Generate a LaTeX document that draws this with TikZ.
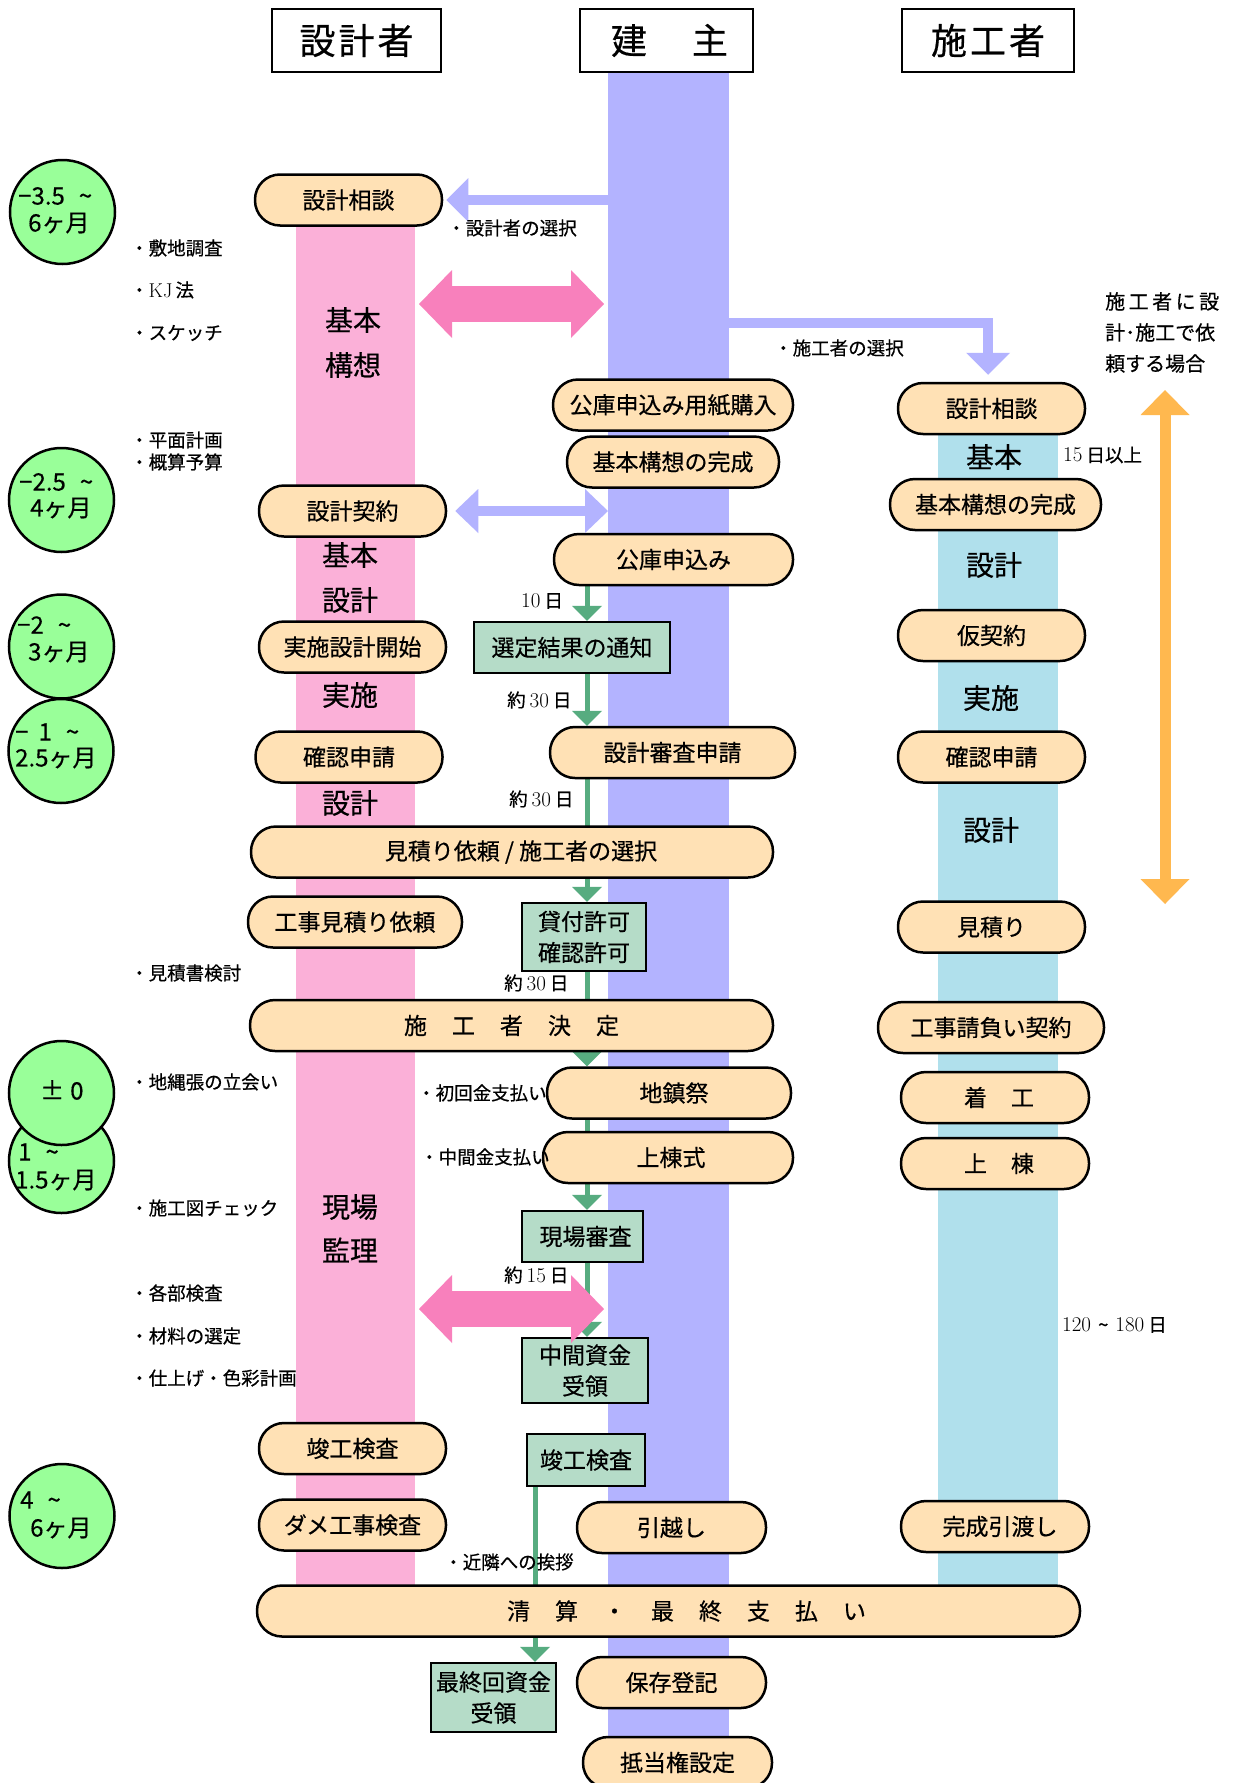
\documentclass[tikz,border=0pt]{standalone}
\usepackage{fontspec}
\newfontfamily\jp[FakeBold=0.5]{Noto Sans CJK JP}
\usetikzlibrary{arrows.meta,shapes.geometric}
\definecolor{peach}{HTML}{FFE1B5}
\definecolor{pinklane}{HTML}{FBB0D8}
\definecolor{pinkarrow}{HTML}{F880BC}
\definecolor{violane}{HTML}{B3B3FF}
\definecolor{bluelane}{HTML}{B0E0EC}
\definecolor{gbox}{HTML}{B5DCC8}
\definecolor{glinec}{HTML}{57AC80}
\definecolor{cgreen}{HTML}{99FF99}
\definecolor{orangearrow}{HTML}{FFB84F}
\pgfdeclarelayer{back}
\pgfdeclarelayer{mid}
\pgfsetlayers{back,mid,main}
\newcommand{\wg}{\hspace{25pt}}
\newcommand{\tld}{\char"7E\relax}
\newcommand{\dg}[1]{{\fontsize{21}{22}\selectfont #1}}
\begin{document}
\begin{tikzpicture}[x=1pt,y=-1pt,
 ov/.style={draw=black,line width=2.5pt,fill=peach,rectangle,rounded corners=25pt,minimum height=51pt,inner sep=0pt,font=\jp\fontsize{23}{28}\selectfont},
 gb/.style={draw=black,line width=2.5pt,fill=gbox,rectangle,inner sep=0pt,align=center,font=\jp\fontsize{23}{31}\selectfont},
 hd/.style={draw=black,line width=2.5pt,fill=white,rectangle,minimum height=63pt,inner sep=0pt,font=\jp\fontsize{36}{40}\selectfont},
 circ/.style={ellipse,draw=black,line width=2.5pt,fill=cgreen,minimum width=105pt,minimum height=104pt,inner sep=0pt},
 ctxt/.style={anchor=west,inner sep=0pt,font=\jp\fontsize{24}{26}\selectfont},
 ann/.style={anchor=west,inner sep=0pt,font=\jp\fontsize{18.5}{20}\selectfont},
 lt/.style={inner sep=0pt,font=\jp\fontsize{28}{32}\selectfont},
 daylbl/.style={anchor=west,inner sep=0pt,font=\fontsize{18.5}{20}\selectfont},
 garrow/.style={draw=glinec,line width=5pt,-{Triangle[width=30pt,length=15pt,line width=0pt]}},
 gseg/.style={draw=glinec,line width=5pt},
 varrow/.style={draw=violane,line width=10pt,line join=miter,-{Triangle[width=44pt,length=22pt,line width=0pt]}},
 vdarrow/.style={draw=violane,line width=10pt,{Triangle[width=44pt,length=23pt,line width=0pt]}-{Triangle[width=44pt,length=23pt,line width=0pt]}},
 parrow/.style={draw=pinkarrow,line width=36pt,{Triangle[width=68pt,length=33pt,line width=0pt]}-{Triangle[width=68pt,length=33pt,line width=0pt]}},
 oarrow/.style={draw=orangearrow,line width=11pt,{Triangle[width=49pt,length=25pt,line width=0pt]}-{Triangle[width=49pt,length=25pt,line width=0pt]}}
]
\useasboundingbox (0,0) rectangle (1234,1783);
\begin{pgfonlayer}{back}
 \fill[white] (0,0) rectangle (1234,1783);
 \fill[pinklane] (296,200) rectangle (415,1600);
 \fill[violane] (608,72) rectangle (729,1775);
 \fill[bluelane] (938,408) rectangle (1058,1600);
\end{pgfonlayer}
\coordinate (lane2L) at (608,0);
\coordinate (lane2R) at (729,0);

% headers
\node[hd,minimum width=169pt] (h1) at (356.5,40.5) {設\hspace{3pt}計\hspace{3pt}者};
\node[hd,minimum width=173pt] (h2) at (666.5,40.5) {\hspace{6pt}建\hspace{45pt}主};
\node[hd,minimum width=172pt] (h3) at (988,40.5) {施\hspace{3pt}工\hspace{3pt}者};

% designer column
\node[ov,minimum width=187pt] (d1) at (348.5,200) {設計相談};
\node[ov,minimum width=187pt] (d2) at (352.5,511) {設計契約};
\node[ov,minimum width=187pt] (d3) at (352.5,647) {実施設計開始};
\node[ov,minimum width=187pt] (d4) at (349,757) {確認申請};
\node[ov,minimum width=522pt] (d5) at (512,852) {\hspace{18pt}見積り依頼 / 施工者の選択};
\node[ov,minimum width=214pt] (d6) at (355,922) {工事見積り依頼};
\node[ov,minimum width=523pt] (d7) at (511.5,1025.5) {施\wg 工\wg 者\wg 決\wg 定};
\node[ov,minimum width=187pt] (d8) at (352.5,1448.5) {竣工検査};
\node[ov,minimum width=187pt] (d9) at (352.5,1525) {ダメ工事検査};
\node[ov,minimum width=823pt] (d10) at (668.5,1611) {\hspace{36pt}清\wg 算\wg ・\wg 最\wg 終\wg 支\wg 払\wg い};

% owner column
\node[ov,minimum width=240pt] (o1) at (673,405) {公庫申込み用紙購入};
\node[ov,minimum width=212pt] (o2) at (673,462) {基本構想の完成};
\node[ov,minimum width=239pt] (o3) at (673.5,559.5) {公庫申込み};
\node[ov,minimum width=245pt] (o4) at (672.5,752.5) {設計審査申請};
\node[ov,minimum width=244pt] (o5) at (669,1093) {\hspace{10pt}地鎮祭};
\node[ov,minimum width=250pt] (o6) at (668,1157.5) {\hspace{6pt}上棟式};
\node[ov,minimum width=189pt] (o7) at (671.5,1527.5) {引越し};
\node[ov,minimum width=189pt] (o8) at (671.5,1682.5) {保存登記};
\node[ov,minimum width=189pt] (o9) at (677.5,1762.5) {抵当権設定};

% builder column
\node[ov,minimum width=187pt] (s1) at (991.5,408.5) {設計相談};
\node[ov,minimum width=211pt] (s2) at (995.5,504.5) {基本構想の完成};
\node[ov,minimum width=187pt] (s3) at (991.5,635.5) {仮契約};
\node[ov,minimum width=187pt] (s4) at (991.5,757) {確認申請};
\node[ov,minimum width=187pt] (s5) at (991.5,927) {見積り};
\node[ov,minimum width=226pt] (s6) at (991,1027.5) {工事請負い契約};
\node[ov,minimum width=188pt] (s7) at (995,1097.5) {\hspace{8pt}着\hspace{24pt}工};
\node[ov,minimum width=188pt] (s8) at (995,1163.5) {\hspace{8pt}上\hspace{24pt}棟};
\node[ov,minimum width=188pt] (s9) at (995,1526.5) {\hspace{10pt}完成引渡し};

% green boxes
\node[gb,minimum width=196pt,minimum height=51pt] (g1) at (572,647.5) {選定結果の通知};
\node[gb,minimum width=124pt,minimum height=68pt] (g2) at (584,937) {貸付許可\\確認許可};
\node[gb,minimum width=121pt,minimum height=51pt] (g3) at (582.5,1236.5) {\hspace{6pt}現場審査};
\node[gb,minimum width=126pt,minimum height=65pt] (g4) at (585,1370.5) {中間資金\\受領};
\node[gb,minimum width=118pt,minimum height=52pt] (g5) at (586,1460) {竣工検査};
\node[gb,minimum width=125pt,minimum height=69pt] (g6) at (493.5,1697.5) {最終回資金\\受領};

% green circles
\node[circ] (c1) at (62.5,212) {};
\node[circ] (c2) at (61.5,500) {};
\node[circ] (c3) at (61.5,646.5) {};
\node[circ] (c4) at (61,751) {};
\node[circ] (c5) at (61.5,1161) {};
\node[circ] (c6) at (61.5,1093) {};
\node[circ] (c7) at (62,1516) {};

\node[ctxt] (c1a) at (18,196) {−3.5\hspace{14pt}\tld};
\node[ctxt] (c1b) at (28,223) {6ヶ月};
\node[ctxt] (c2a) at (19,482) {−2.5\hspace{14pt}\tld};
\node[ctxt] (c2b) at (30,508) {4ヶ月};
\node[ctxt] (c3a) at (17,625) {−2\hspace{14pt}\tld};
\node[ctxt] (c3b) at (28,652) {3ヶ月};
\node[ctxt] (c4a) at (15,732) {−\hspace{10pt}1\hspace{14pt}\tld};
\node[ctxt] (c4b) at (15,758) {2.5ヶ月};
\node[ctxt] (c6a) at (40,1090) {±\hspace{6pt}0};
\node[ctxt] (c5a) at (18,1152) {1\hspace{14pt}\tld};
\node[ctxt] (c5b) at (15,1180) {1.5ヶ月};
\node[ctxt] (c7a) at (20,1500) {4\hspace{14pt}\tld};
\node[ctxt] (c7b) at (30,1528) {6ヶ月};

% green connectors
\coordinate (gx) at (587,0);
\coordinate (gx2) at (535,0);
\begin{pgfonlayer}{mid}
 \draw[garrow] (o3.south -| gx) -- (g1.north -| gx);
 \draw[garrow] (g1.south -| gx) -- (o4.north -| gx);
 \draw[garrow] (o4.south -| gx) -- (g2.north -| gx);
 \draw[garrow] (g2.south -| gx) -- (o5.north -| gx);
 \draw[gseg] (o5.south -| gx) -- (o6.north -| gx);
 \draw[garrow] (o6.south -| gx) -- (g3.north -| gx);
 \draw[garrow] (g3.south -| gx) -- (g4.north -| gx);
 \draw[garrow] (g5.south -| gx2) -- (g6.north -| gx2);
\end{pgfonlayer}

% violet arrows
\draw[varrow,shorten >=3pt] ([xshift=2pt]d1.east -| lane2L) -- (d1.east);
\draw[vdarrow] ([xshift=8pt]d2.east) -- (d2.east -| lane2L);
\coordinate (va3s) at (727,323);
\coordinate (va3c) at (988,323);
\draw[varrow,shorten >=7pt] (va3s) -- (va3c) -- (s1.north -| va3c);

% pink arrows
\coordinate (pk1a) at (419,304);
\coordinate (pk1b) at (604,304);
\draw[parrow] (pk1a) -- (pk1b);
\coordinate (pk2a) at (419,1309);
\coordinate (pk2b) at (604,1309);
\draw[parrow] (pk2a) -- (pk2b);

% orange arrow
\coordinate (oa) at (1165,390);
\coordinate (ob) at (1165,904);
\draw[oarrow] (oa) -- (ob);

% lane labels
\node[lt] (l1) at (353,320) {基本};
\node[lt] (l2) at (353,365) {構想};
\node[lt] (l3) at (350,555) {基本};
\node[lt] (l4) at (350,600) {設計};
\node[lt] (l5) at (350,695) {実施};
\node[lt] (l6) at (350,803) {設計};
\node[lt] (l7) at (350,1207) {現場};
\node[lt] (l8) at (350,1250) {監理};
\node[lt] (l9) at (994,457) {基本};
\node[lt] (l10) at (994,565) {設計};
\node[lt] (l11) at (991,698) {実施};
\node[lt] (l12) at (991,830) {設計};

% left annotations
\node[ann] (a1) at (130,248) {・敷地調査};
\node[ann] (a2) at (130,290) {・{\rmfamily\fontsize{20}{22}\selectfont KJ}\hspace{3pt}法};
\node[ann] (a3) at (130,333) {・スケッチ};
\node[ann] (a4) at (130,440) {・平面計画};
\node[ann] (a5) at (130,462) {・概算予算};
\node[ann] (a6) at (130,973) {・見積書検討};
\node[ann] (a7) at (130,1082) {・地縄張の立会い};
\node[ann] (a8) at (130,1208) {・施工図チェック};
\node[ann] (a9) at (130,1293) {・各部検査};
\node[ann] (a10) at (130,1336) {・材料の選定};
\node[ann] (a11) at (130,1378) {・仕上げ・色彩計画};

% middle annotations
\node[ann] (m1) at (447,228) {・設計者の選択};
\node[ann] (m2) at (774,348) {・施工者の選択};
\node[ann] (m3) at (417,1093) {・初回金支払い};
\node[ann] (m4) at (420,1157) {・中間金支払い};
\node[ann] (m5) at (444,1562) {・近隣への挨拶};

% day labels
\node[daylbl] (t1) at (521,601) {\dg{10}\hspace{4pt}{\jp 日}};
\node[daylbl] (t2) at (507,700) {{\jp 約}\hspace{4pt}\dg{30}\hspace{4pt}{\jp 日}};
\node[daylbl] (t3) at (509,799) {{\jp 約}\hspace{4pt}\dg{30}\hspace{4pt}{\jp 日}};
\node[daylbl] (t4) at (504,983) {{\jp 約}\hspace{4pt}\dg{30}\hspace{4pt}{\jp 日}};
\node[daylbl,fill=white,inner sep=1pt] (t5) at (503,1275) {{\jp 約}\hspace{4pt}\dg{15}\hspace{4pt}{\jp 日}};
\node[daylbl] (t6) at (1063,455) {\dg{15}\hspace{4pt}{\jp 日以上}};
\node[daylbl] (t7) at (1062,1325) {\dg{120}\hspace{7pt}{\jp\tld}\hspace{7pt}\dg{180}\hspace{4pt}{\jp 日}};

% right note
\node[anchor=north west,inner sep=0pt,align=left,font=\jp\fontsize{20}{31}\selectfont] (note) at (1105,292)
 {施\hspace{3.5pt}工\hspace{3.5pt}者\hspace{3.5pt}に\hspace{3.5pt}設\\計･施工で依\\頼する場合};
\end{tikzpicture}
\end{document}
